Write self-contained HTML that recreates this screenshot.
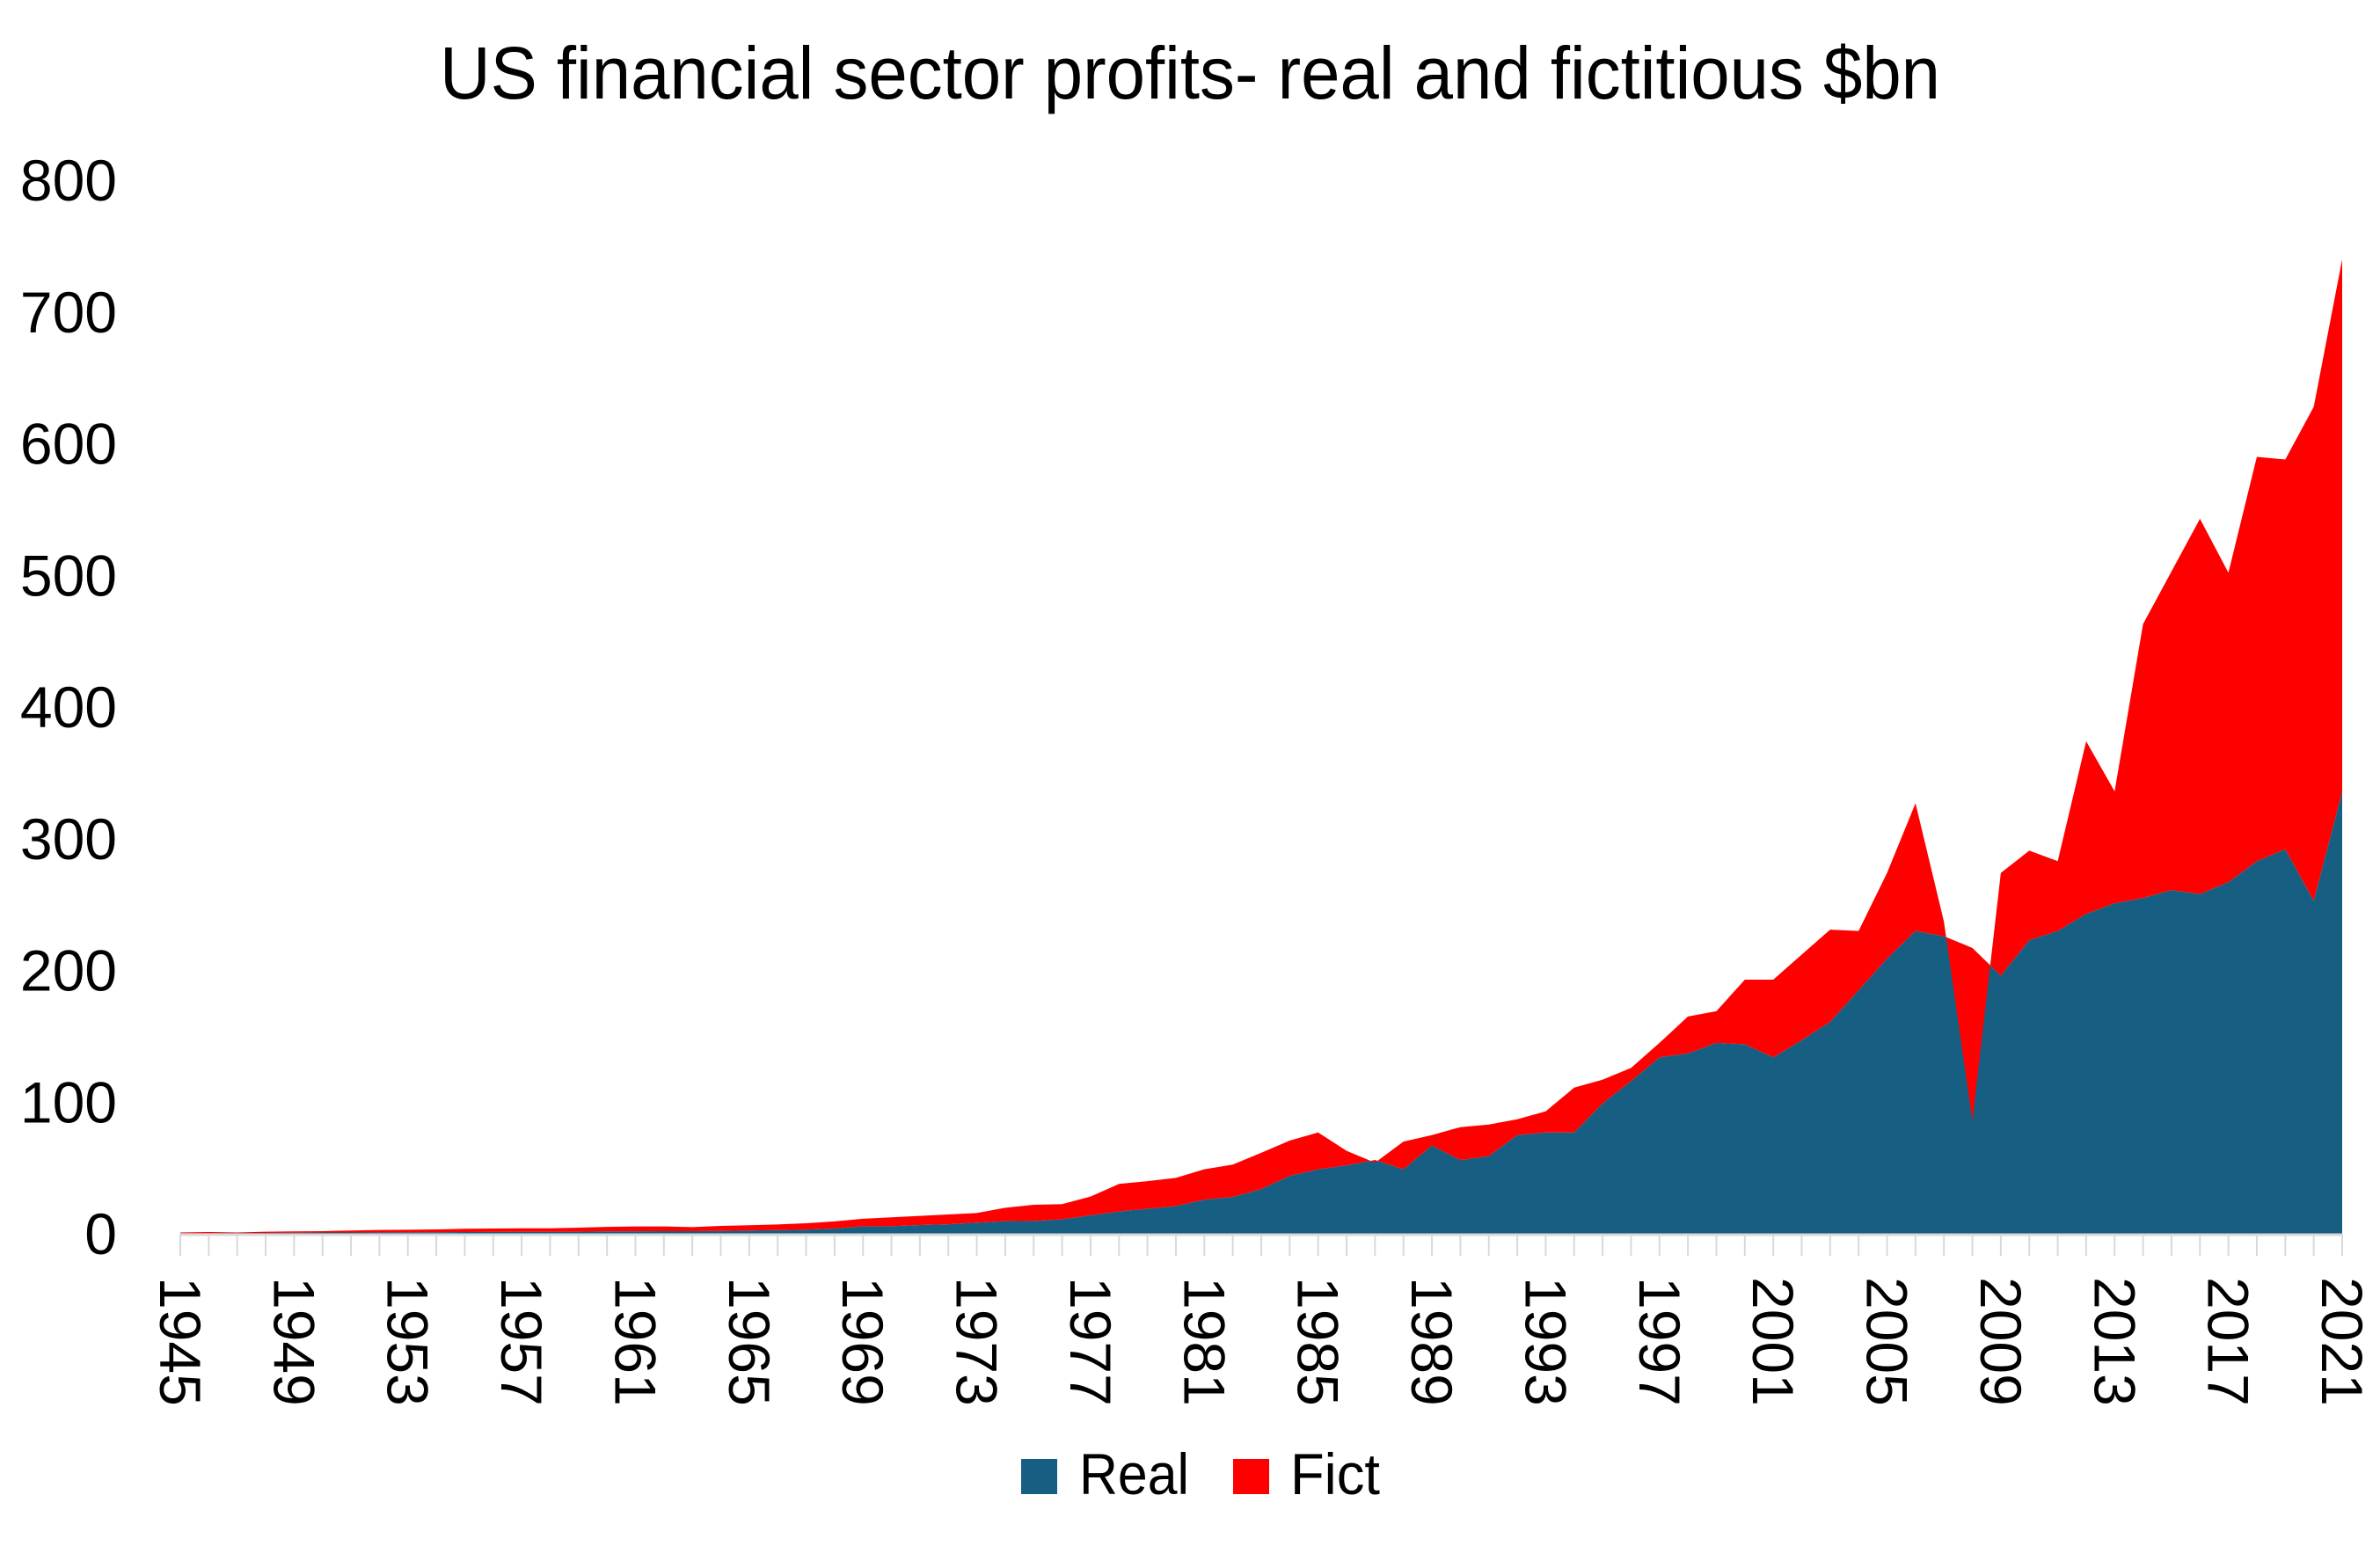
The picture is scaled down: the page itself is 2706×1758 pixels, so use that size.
<!DOCTYPE html>
<html><head><meta charset="utf-8"><style>
html,body{margin:0;padding:0;background:#fff;}
svg{display:block;font-family:"Liberation Sans",Arial,sans-serif;}
</style></head><body>
<svg id="chart" width="2706" height="1758" viewBox="0 0 2706 1758" xmlns="http://www.w3.org/2000/svg">
<rect x="0" y="0" width="2706" height="1758" fill="#fff"/>
<text x="1353" y="112" text-anchor="middle" font-size="84" textLength="1706" lengthAdjust="spacingAndGlyphs" fill="#000">US financial sector profits- real and fictitious $bn</text>
<g id="plot"></g>
<g id="yaxis"></g>
<g id="xaxis"></g>
<g>
<rect x="1161" y="1659" width="41" height="40" fill="#175F82"/>
<text x="1227" y="1699" font-size="66" textLength="125" lengthAdjust="spacingAndGlyphs">Real</text>
<rect x="1402" y="1659" width="41" height="40" fill="#FF0000"/>
<text x="1467" y="1699" font-size="66" textLength="102" lengthAdjust="spacingAndGlyphs">Fict</text>
</g>
</svg>
<script>
const years = [];
for (let y = 1945; y <= 2021; y++) years.push(y);
const realValues = [0.5,0.5,0.6,0.7,0.8,1,1,1.1,1.2,1.2,1.3,1.4,1.5,1.5,1.6,1.8,1.9,2,2,2.2,2.5,2.8,3.2,4,5.8,5.8,6.7,7.3,8.5,9.6,9.8,11,14,17,19,21,26,28,34,44,49,52,56,49,67,56,59,75,77,77,99,116,134,137,145,144,134,147,161,185,209,230,226,217,196,223,230,243,251,255,261,258,267,283,292,253,336];
const totalValues = [1,1.3,1,1.6,1.8,2,2.5,2.9,3.1,3.3,3.8,4,4.2,4.2,4.7,5.3,5.6,5.6,5.1,6,6.5,7.1,8,9.4,11.4,12.5,13.6,14.7,15.8,19.8,22,22.5,28.3,37.9,40,42.5,49,52.6,61.5,70.8,77,63,54,70,75,81,83,87,93,111,117,126,145,165,169,193,193,212,231,230,274,327,237,86,274,291,283,374,336,463,503,543,502,590,588,628,740];
const yTicks = [0,100,200,300,400,500,600,700,800];
const xLabelYears = [1945,1949,1953,1957,1961,1965,1969,1973,1977,1981,1985,1989,1993,1997,2001,2005,2009,2013,2017,2021];

const NS = "http://www.w3.org/2000/svg";
const X0 = 205, X1 = 2663, Y0 = 1403, YTOP = 205;
function xs(year){ return X0 + (year - 1945) * (X1 - X0) / (2021 - 1945); }
function ys(v){ return Y0 - v * (Y0 - YTOP) / 800; }
function mk(tag, attrs){ const e = document.createElementNS(NS, tag); for (const k in attrs) e.setAttribute(k, attrs[k]); return e; }

const plot = document.getElementById('plot');
let d = `M${xs(years[0])},${ys(0)}`;
years.forEach((yr,i)=>{ d += ` L${xs(yr)},${ys(realValues[i])}`; });
d += ` L${xs(years[years.length-1])},${ys(0)} Z`;
const realArea = mk('path', {d: d, fill: '#175F82'});


plot.appendChild(realArea);

let d2 = '';
years.forEach((yr,i)=>{ d2 += (i ? ' L' : 'M') + `${xs(yr)},${ys(totalValues[i])}`; });
for (let i = years.length-1; i >= 0; i--) d2 += ` L${xs(years[i])},${ys(realValues[i])}`;
d2 += ' Z';
const fictArea = mk('path', {d: d2, fill: '#FF0000'});


plot.appendChild(fictArea);

const yaxis = document.getElementById('yaxis');
yTicks.forEach(v=>{
  const t = mk('text', {x: 133, y: ys(v) + 23, 'text-anchor': 'end', 'font-size': 66, fill: '#000'});
  t.textContent = v;
  
  
  yaxis.appendChild(t);
});

const xaxis = document.getElementById('xaxis');
const axisLine = mk('line', {x1: X0, x2: X1, y1: Y0 + 1, y2: Y0 + 1, stroke: '#d9d9d9', 'stroke-width': 3});


xaxis.appendChild(axisLine);
years.forEach(yr=>{
  const l = mk('line', {x1: xs(yr), x2: xs(yr), y1: Y0, y2: Y0 + 25, stroke: '#d9d9d9', 'stroke-width': 2});
  
  
  xaxis.appendChild(l);
});
xLabelYears.forEach(yr=>{
  const x = xs(yr), y = 1452;
  const t = mk('text', {x: x, y: y, transform: `rotate(90 ${x} ${y})`, 'font-size': 66, 'dominant-baseline': 'central', fill: '#000'});
  t.textContent = yr;
  
  
  xaxis.appendChild(t);
});
</script>
</body></html>
